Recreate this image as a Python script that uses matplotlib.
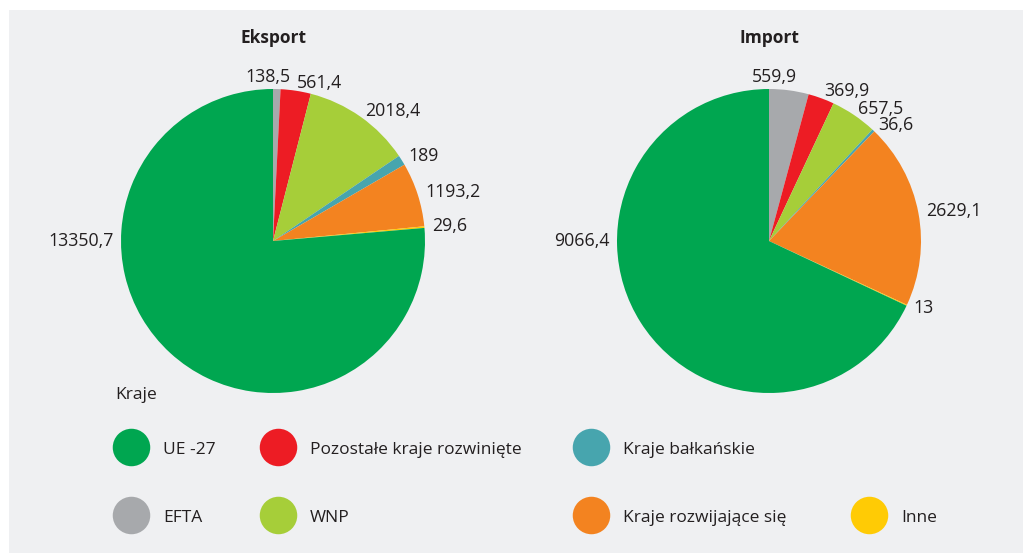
import matplotlib.pyplot as plt
from matplotlib.lines import Line2D
from matplotlib.patches import Rectangle

# categories in drawing order (clockwise from the top)
categories = ["EFTA", "Pozostałe kraje rozwinięte", "WNP", "Kraje bałkańskie",
              "Kraje rozwijające się", "Inne", "UE -27"]
eksport = [138.5, 561.4, 2018.4, 189, 1193.2, 29.6, 13350.7]
import_vals = [559.9, 369.9, 657.5, 36.6, 2629.1, 13, 9066.4]
colors = ["#a7a9ac", "#ed1c24", "#a6ce39", "#47a5ae", "#f38320", "#ffcb05", "#00a650"]

# legend columns (as in the original layout)
legend_cols = [["UE -27", "EFTA"],
               ["Pozostałe kraje rozwinięte", "WNP"],
               ["Kraje bałkańskie", "Kraje rozwijające się"],
               [None, "Inne"]]

plt.rcParams["font.family"] = ["Open Sans", "DejaVu Sans"]

W, H = 1023, 553
fig = plt.figure(figsize=(W / 100, H / 100), dpi=100)
fig.patch.set_facecolor("white")
fig.patches.append(Rectangle((9 / W, 0), 1 - 9 / W, 1 - 10 / H, transform=fig.transFigure,
                             facecolor="#eff0f2", edgecolor="none", zorder=-10))

R = 152
def fmt(v):
    return ("%g" % v).replace(".", ",")

def draw_pie(values, cx, cy, title, efta_shift):
    side = 2.5 * R
    ax = fig.add_axes([(cx - side / 2) / W, (H - cy - side / 2) / H, side / W, side / H])
    wedges, texts = ax.pie(values, colors=colors, startangle=90, counterclock=False,
                           labels=[fmt(v) for v in values], labeldistance=1.05,
                           wedgeprops=dict(linewidth=0), textprops=dict(fontsize=12.8, color="#231f20"))
    ax.set_xlim(-1.25, 1.25)
    ax.set_ylim(-1.25, 1.25)
    ax.set_aspect("equal")
    # EU label on the left side, small top slice label centred above
    texts[-1].set_position((-1.05, 0))
    texts[-1].set_ha("right")
    x0, _ = texts[0].get_position()
    texts[0].set_position((x0 + efta_shift, 1.08))
    texts[0].set_ha("center")
    fig.text(cx / W, 1 - 38 / H, title, ha="center", va="center", fontsize=12.5,
             fontweight="bold", color="#231f20")

draw_pie(eksport, 273, 241, "Eksport", -0.06)
draw_pie(import_vals, 769, 241, "Import", -0.1)

fig.text(115 / W, 1 - 395 / H, "Kraje", ha="left", va="center", fontsize=12.5, color="#231f20")

col_x = [131, 278, 591, 869]
fs = 12.5
hl = 1.5
for cx, names in zip(col_x, legend_cols):
    handles, labels = [], []
    for name in names:
        if name is None:
            handles.append(Line2D([], [], ls="", marker=""))
            labels.append(" ")
        else:
            c = colors[categories.index(name)]
            handles.append(Line2D([], [], ls="", marker="o", markersize=27,
                                  markerfacecolor=c, markeredgecolor="none"))
            labels.append(name)
    left_px = cx - hl * fs * 100 / 72 / 2
    fig.legend(handles, labels, loc="center left",
               bbox_to_anchor=(left_px / W, 1 - 483 / H),
               frameon=False, fontsize=fs, handlelength=hl, handleheight=1.0,
               handletextpad=1.1, labelspacing=2.9, borderpad=0, borderaxespad=0,
               labelcolor="#231f20")

fig.savefig("out.png", dpi=100, facecolor="white")
